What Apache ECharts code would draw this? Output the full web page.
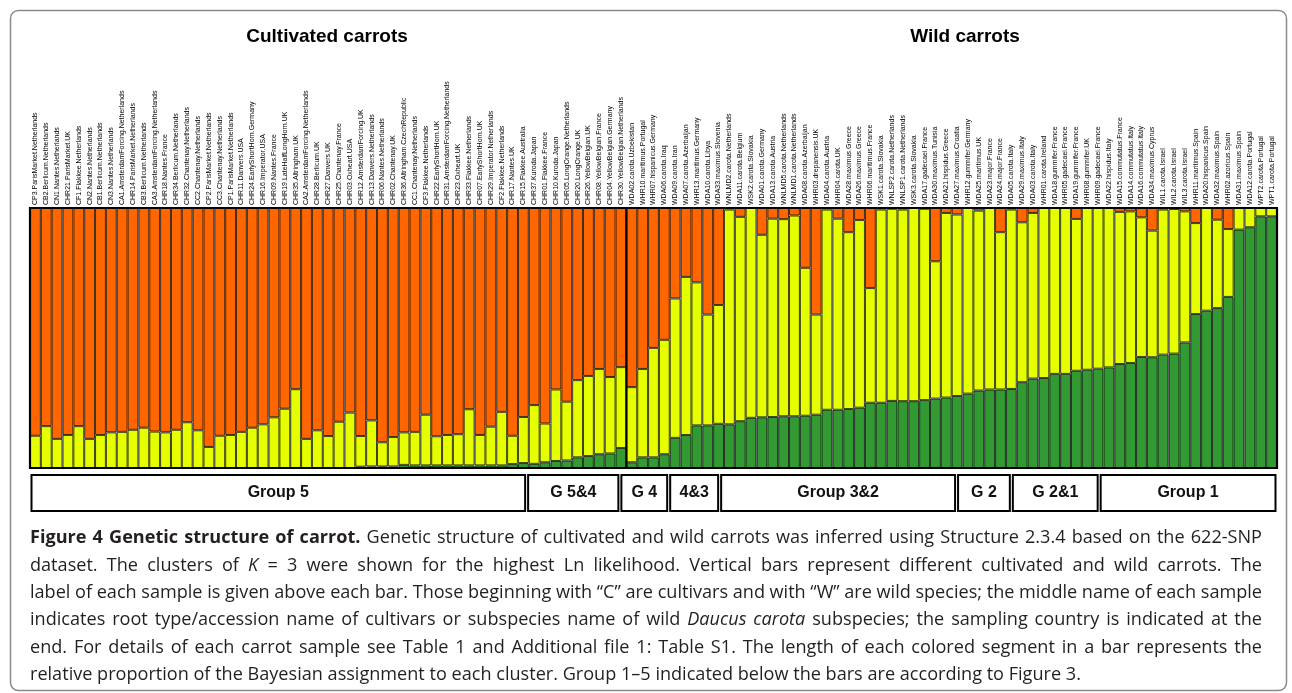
<!DOCTYPE html>
<html><head><meta charset="utf-8">
<script src="https://cdn.jsdelivr.net/npm/echarts@6/dist/echarts.min.js"></script>
<style>html,body{margin:0;padding:0;background:#fff}#c{width:1292px;height:693px}</style>
</head><body><div id="c"></div>
<script>
const samples = [
"CP3.ParisMarket.Netherlands","CB2.Berlicum.Netherlands","CN1.Nantes.Netherlands","CHR21.ParisMarket.UK","CF1.Flakkee.Netherlands","CN2.Nantes.Netherlands","CB1.Berlicum.Netherlands","CN3.Nantes.Netherlands","CA1.AmsterdamForcing.Netherlands","CHR14.ParisMarket.Netherlands","CB3.Berlicum.Netherlands","CA3.AmsterdamForcing.Netherlands",
"CHR18.Nantes.France","CHR34.Berlicum.Netherlands","CHR32.Chantenay.Netherlands","CC2.Chantenay.Netherlands","CP2.ParisMarket.Netherlands","CC3.Chantenay.Netherlands","CP1.ParisMarket.Netherlands","CHR11.Danvers.USA","CHR24.EarlyShortHorn.Germany","CHR16.Imperator.USA","CHR09.Nantes.France",
"CHR19.LateHalfLongHorn.UK","CHR35.Altringham.UK","CA2.AmsterdamForcing.Netherlands","CHR28.Berlicum.UK","CHR27.Danvers.UK","CHR25.Chantenay.France","CHR03.Oxheart.USA","CHR12.AmsterdamForcing.UK","CHR13.Danvers.Netherlands","CHR06.Nantes.Netherlands","CHR02.Chantenay.UK",
"CHR36.Altringham.CzechRepublic","CC1.Chantenay.Netherlands","CF3.Flakkee.Netherlands","CHR22.EarlyShortHorn.UK","CHR31.AmsterdamForcing.Netherlands","CHR23.Oxheart.UK","CHR33.Flakkee.Netherlands","CHR07.EarlyShortHorn.UK","CHR29.Imperator.Netherlands","CF2.Flakkee.Netherlands","CHR17.Nantes.UK","CHR15.Flakkee.Australia",
"CHR37.Kuroda.Japan","CHR01.Flakkee.France","CHR10.Kuroda.Japan","CHR05.LongOrange.Netherlands","CHR20.LongOrange.UK","CHR26.YellowBelgian.UK","CHR08.YellowBelgian.France","CHR04.YellowBelgian.Germany","CHR30.YellowBelgian.Netherlands",
"WDA02.carota.Uzbekistan","WHR10.maritimus.Portugal","WHR07.hispanicus.Germany","WDA06.carota.Iraq","WDA09.carota.Iran","WDA07.carota.Azerbaijan","WHR13.maritimus.Germany","WDA10.carota.Libya","WDA33.maximus.Slovenia","WNLMD2.carota.Netherlands","WDA11.carota.Belgium","WSK2.carota.Slovakia","WDA01.carota.Germany","WDA13.carota.Austria",
"WNLMD5.carota.Netherlands","WNLMD1.carota.Netherlands","WDA08.carota.Azerbaijan","WHR03.drepanensis.UK","WDA04.carota.Austria","WHR04.carota.UK","WDA28.maximus.Greece","WDA26.maximus.Greece","WHR06.maritimus.France","WSK1.carota.Slovakia","WNLSP2.carota.Netherlands",
"WNLSP1.carota.Netherlands","WSK3.carota.Slovakia","WDA17.gadecaei.France","WDA30.maximus.Tunisia","WDA21.hispidus.Greece","WDA27.maximus.Croatia","WHR12.gummifer.Germany","WDA25.maritimus.UK","WDA23.major.France","WDA24.major.France","WDA05.carota.Italy","WDA29.maximus.Italy",
"WDA03.carota.Italy","WHR01.carota.Ireland","WDA18.gummifer.France","WHR05.gadecaei.France","WDA19.gummifer.France","WHR08.gummifer.UK","WHR09.gadecaei.France","WDA22.hispidus.Italy","WDA15.commutatus.France","WDA14.commutatus.Italy","WDA16.commutatus.Italy",
"WDA34.maximus.Cyprus","WIL1.carota.Israel","WIL2.carota.Israel","WIL3.carota.Israel","WHR11.maritimus.Spain","WDA20.hispanicus.Spain","WDA32.maximus.Spain","WHR02.azoricus.Spain","WDA31.maximus.Spain","WDA12.carota.Portugal","WPT2.carota.Portugal","WPT1.carota.Portugal"
];
const cluster1 = [ // green
0,0,0,0,0,0,0,0,0,0,0,0,
0,0,0,0,0,0,0,0,0,0,0,
0,0,0,0,0,0,0,.005,.006,.006,.006,
.012,.01,.01,.01,.01,.01,.01,.01,.01,.01,.015,.019,
.016,.022,.027,.029,.041,.046,.053,.056,.077,
.022,.041,.041,.053,.116,.127,.164,.164,.17,.168,.18,.193,.195,.196,
.199,.199,.201,.205,.224,.224,.227,.232,.251,.251,.258,
.257,.257,.261,.267,.271,.277,.286,.298,.302,.302,.304,.33,
.344,.346,.362,.362,.374,.378,.382,.387,.40,.404,.427,
.426,.436,.44,.483,.592,.605,.615,.658,.917,.926,.968,.968
];
const cluster2 = [ // yellow
.124,.161,.112,.127,.161,.112,.127,.137,.139,.147,.155,.14,
.137,.147,.176,.145,.081,.124,.127,.139,.155,.168,.195,
.228,.303,.112,.145,.123,.178,.213,.118,.177,.093,.113,
.125,.129,.195,.112,.117,.12,.216,.117,.149,.206,.109,.177,
.226,.149,.275,.226,.297,.308,.328,.294,.311,
.289,.34,.421,.44,.536,.608,.55,.426,.457,.826,.786,.807,.702,.763,
.758,.772,.569,.385,.77,.735,.68,.722,.441,.743,.739,
.737,.743,.736,.528,.71,.698,.714,.692,.698,.605,.69,.615,
.637,.654,.638,.638,.584,.622,.618,.613,.585,.583,.537,
.487,.558,.556,.504,.35,.395,.34,.261,.083,.074,.032,.032
];
const cluster3 = [ // orange
.876,.839,.888,.873,.839,.888,.873,.863,.861,.853,.845,.86,
.863,.853,.824,.855,.919,.876,.873,.861,.845,.832,.805,
.772,.697,.888,.855,.877,.822,.787,.877,.817,.901,.881,
.863,.861,.795,.878,.873,.87,.774,.873,.841,.784,.876,.804,
.758,.829,.698,.745,.662,.646,.619,.65,.612,
.689,.619,.538,.507,.348,.265,.286,.41,.373,.006,.034,0,.103,.041,
.043,.029,.23,.41,.006,.041,.093,.046,.308,.006,.003,
.006,0,.003,.205,.019,.025,0,.01,0,.093,.006,.055,
.019,0,0,0,.042,0,0,0,.015,.013,.036,
.087,.006,.004,.013,.058,0,.045,.081,0,0,0,0
];
const groupNames = ["Group 5","G 5&4","G 4","4&3","Group 3&2","G 2","G 2&1","Group 1"];
const groupBounds = [0,45.8,54.4,58.9,63.6,85.45,90.5,98.6,115];
const headings = ["Cultivated carrots","Wild carrots"];
const captionLines = [
  [["b","Figure 4 Genetic structure of carrot."],["n","Genetic structure of cultivated and wild carrots was inferred using Structure 2.3.4 based on the 622-SNP"]],
  [["n","dataset. The clusters of"],["i","K"],["n","= 3 were shown for the highest Ln likelihood. Vertical bars represent different cultivated and wild carrots. The"]],
  [["n","label of each sample is given above each bar. Those beginning with \u201cC\u201d are cultivars and with \u201cW\u201d are wild species; the middle name of each sample"]],
  [["n","indicates root type/accession name of cultivars or subspecies name of wild"],["i","Daucus carota"],["n","subspecies; the sampling country is indicated at the"]],
  [["n","end. For details of each carrot sample see Table 1 and Additional file 1: Table S1. The length of each colored segment in a bar represents the"]],
  [["n","relative proportion of the Bayesian assignment to each cluster. Group 1\u20135 indicated below the bars are according to Figure 3."]]
];

const chart = echarts.init(document.getElementById('c'), null, {renderer:'canvas'});
const N = samples.length;
const nCult = samples.filter(s => s[0] === 'C').length;
const bdr = 'rgba(0,0,0,0.75)';
const mkBar = (name, data, color) => ({
  type:'bar', name, data, stack:'s', xAxisIndex:0, yAxisIndex:0,
  barCategoryGap:'0%', itemStyle:{color, borderColor:bdr, borderWidth:1},
  silent:true, animation:false
});
const groupData = groupNames.map((g,i)=>[groupBounds[i], groupBounds[i+1], i]);
const PLOT_L = 30, PLOT_W = 1247;

// justified caption layout
const CAP_X = 30, CAP_W = 1232, CAP_TOP = 538, CAP_LH = 27.4, CAP_SIZE = 18.1;
const fontOf = st => (st === 'i' ? 'italic ' : '') + (st === 'b' ? 'bold ' : '') + CAP_SIZE + 'px "Open Sans"';
const mctx = document.createElement('canvas').getContext('2d');
const capEls = [];
captionLines.forEach((line, li) => {
  const words = [];
  line.forEach(([st, txt]) => txt.split(' ').filter(w => w.length).forEach(w => words.push([st, w])));
  const widths = words.map(([st, w]) => { mctx.font = fontOf(st); return mctx.measureText(w).width; });
  mctx.font = fontOf('n');
  const spaceW = mctx.measureText(' ').width;
  const total = widths.reduce((a, b) => a + b, 0);
  const last = li === captionLines.length - 1;
  const gap = last ? spaceW : (CAP_W - total) / (words.length - 1);
  let x = CAP_X;
  words.forEach(([st, w], k) => {
    capEls.push({type:'text', x:x, y:CAP_TOP + li * CAP_LH, silent:true,
      style:{text:w, font:fontOf(st), fill:'#231f20', verticalAlign:'middle'}});
    x += widths[k] + gap;
  });
});

const option = {
  animation:false,
  title:[
    {text:headings[0], left:322, top:22, textAlign:'center', textStyle:{fontFamily:'Liberation Sans', fontWeight:'bold', fontSize:19, color:'#000'}},
    {text:headings[1], left:960, top:22, textAlign:'center', textStyle:{fontFamily:'Liberation Sans', fontWeight:'bold', fontSize:19, color:'#000'}}
  ],
  grid:[
    {left:PLOT_L, width:PLOT_W, top:208, height:260, show:false},
    {left:PLOT_L, width:PLOT_W, top:475, height:36, show:false}
  ],
  xAxis:[
    {type:'category', gridIndex:0, data:samples, position:'top',
     axisLine:{show:false}, axisTick:{show:false},
     axisLabel:{interval:0, rotate:90, fontSize:7, margin:3, color:'#000', fontFamily:'Liberation Sans'}},
    {type:'value', gridIndex:1, min:0, max:N, show:false}
  ],
  yAxis:[
    {type:'value', gridIndex:0, min:0, max:1, show:false},
    {type:'value', gridIndex:1, min:0, max:1, show:false}
  ],
  series:[
    mkBar('Cluster 1', cluster1, '#339933'),
    mkBar('Cluster 2', cluster2, '#E5FF00'),
    mkBar('Cluster 3', cluster3, '#FF6600'),
    {type:'custom', xAxisIndex:0, yAxisIndex:0, silent:true, data:[[nCult]], z:5,
     renderItem:(params, api)=>{
       const cs = params.coordSys;
       const bw = api.size([1,0])[0];
       const x = api.coord([nCult,0])[0] - bw/2;
       return {type:'group', children:[
         {type:'rect', shape:{x:cs.x, y:cs.y, width:cs.width, height:cs.height}, style:{fill:null, stroke:'#000', lineWidth:2.2}},
         {type:'line', shape:{x1:x, y1:cs.y, x2:x, y2:cs.y+cs.height}, style:{stroke:'#000', lineWidth:2}}
       ]};
     }},
    {type:'custom', xAxisIndex:1, yAxisIndex:1, silent:true, data:groupData,
     renderItem:(params, api)=>{
       const cs = params.coordSys;
       const x0 = api.coord([api.value(0),0])[0] + 1.5;
       const x1 = api.coord([api.value(1),0])[0] - 1.5;
       const name = groupNames[api.value(2)];
       return {type:'group', children:[
         {type:'rect', shape:{x:x0, y:cs.y, width:x1-x0, height:cs.height}, style:{fill:'#fff', stroke:'#000', lineWidth:2}},
         {type:'text', style:{text:name, x:(x0+x1)/2, y:cs.y+cs.height/2, align:'center', verticalAlign:'middle',
           font:'bold 16px "Liberation Sans"', fill:'#111'}}
       ]};
     }}
  ],
  graphic:[
    {type:'rect', left:8, top:8, shape:{width:1276, height:680, r:8}, style:{fill:null, stroke:'#8a8a8a', lineWidth:1.5}, silent:true}
  ].concat(capEls)
};
chart.setOption(option);
</script>
</body></html>
